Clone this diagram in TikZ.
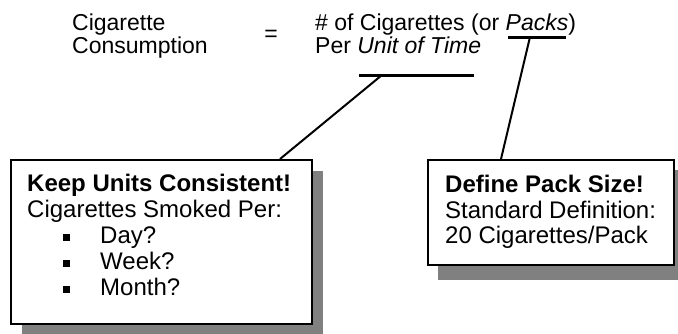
\documentclass[tikz,border=0pt]{standalone}
\usepackage{fontspec}
\setmainfont{Liberation Sans}
\newcommand{\sqbullet}{\hspace*{36pt}\raisebox{2.5pt}{\rule{7pt}{7pt}}\hspace*{30pt}}
\begin{document}
\begin{tikzpicture}[x=1pt,y=-1pt,
    txt/.style={inner sep=0pt, anchor=base west, font=\fontsize{24}{26}\selectfont},
    toptxt/.style={txt, font=\fontsize{23}{23}\selectfont},
    callout/.style={draw=black, line width=1.5pt, fill=white, anchor=north west, inner sep=0pt},
    dropshade/.style={fill=black!50},
    uline/.style={line width=3pt},
    lead/.style={line width=2pt}]
  \useasboundingbox (0,0) rectangle (678,333);
  % definition
  \node[toptxt] (cons1) at (72,30) {Cigarette};
  \node[toptxt] (cons2) at (72,53) {Consumption};
  \node[toptxt, anchor=center] (eq) at (271,36) {=};
  \node[toptxt] (def1) at (315,30) {\# of Cigarettes (or \textit{Packs})};
  \node[toptxt] (def2) at (315,53) {Per \textit{Unit of Time}};
  \coordinate (packs w) at (508,37);
  \coordinate (packs e) at (566,37);
  \coordinate (packs hook) at (530,37);
  \coordinate (time w) at (359,75);
  \coordinate (time e) at (474,75);
  \coordinate (time hook) at (382,75);
  \draw[uline] (packs w) -- (packs e);
  \draw[uline] (time w) -- (time e);
  % left callout
  \fill[dropshade] (22,171) rectangle (323,335);
  \node[callout, minimum width=301pt, minimum height=164pt] (keepbox) at (10,159) {};
  \node[txt] (keephead) at (27,191) {\bfseries Keep Units Consistent!};
  \node[txt] (keepsub) at (27,217) {Cigarettes Smoked Per:};
  \node[txt] (day) at (27,243) {\sqbullet Day?};
  \node[txt] (week) at (27,269) {\sqbullet Week?};
  \node[txt] (month) at (27,295) {\sqbullet Month?};
  % right callout
  \fill[dropshade] (438,170) rectangle (684,280);
  \node[callout, minimum width=246pt, minimum height=105pt] (packbox) at (427,159) {};
  \node[txt] (packhead) at (445,192) {\bfseries Define Pack Size!};
  \node[txt] (packsub) at (445,218) {Standard Definition:};
  \node[txt] (packnum) at (445,243) {20 Cigarettes/Pack};
  % leaders
  \draw[lead] ([xshift=270pt]keepbox.north west) -- (time hook);
  \draw[lead] ([xshift=74pt]packbox.north west) -- (packs hook);
\end{tikzpicture}
\end{document}
